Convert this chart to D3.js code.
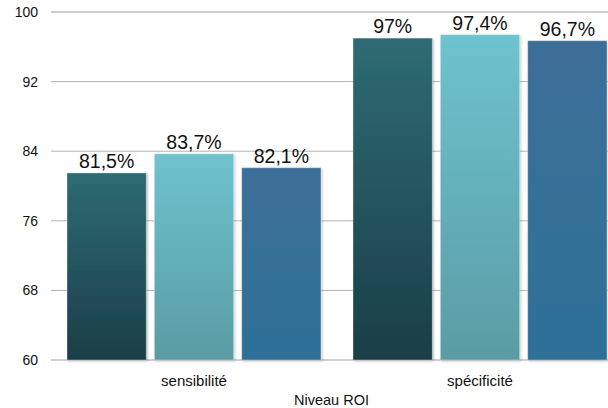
<!DOCTYPE html>
<html><head><meta charset="utf-8">
<script src="https://cdn.jsdelivr.net/npm/d3@7"></script>
<style>body{margin:0;background:#fff}svg{display:block}text{font-family:"Liberation Sans",Arial,sans-serif}</style>
</head><body>
<script>
const categories = ["sensibilité", "spécificité"];
const series = ["s1", "s2", "s3"];
const values = [[81.5, 83.7, 82.1], [97, 97.4, 96.7]];
const labels = [["81,5%", "83,7%", "82,1%"], ["97%", "97,4%", "96,7%"]];
const yTicks = [60, 68, 76, 84, 92, 100];
const axisTitle = "Niveau ROI";
const gradTop = ["#2e6b74", "#6ec3ce", "#3d6e98"];
const gradBot = ["#1a3e47", "#5a9ca4", "#2d7097"];

const W = 608, H = 408;
const svg = d3.select("body").append("svg").attr("width", W).attr("height", H);
const defs = svg.append("defs");
series.forEach((s, i) => {
  const g = defs.append("linearGradient").attr("id", "g" + i).attr("x1", 0).attr("y1", 0).attr("x2", 0).attr("y2", 1);
  g.append("stop").attr("offset", "0%").attr("stop-color", gradTop[i]);
  g.append("stop").attr("offset", "100%").attr("stop-color", gradBot[i]);
});
const f = defs.append("filter").attr("id", "sh").attr("x", "-10%").attr("y", "-10%").attr("width", "130%").attr("height", "130%");
f.append("feDropShadow").attr("dx", 1).attr("dy", 1).attr("stdDeviation", 1).attr("flood-color", "#000").attr("flood-opacity", 0.3);

const y = d3.scaleLinear().domain([60, 100]).range([360, 12]);
const x0 = d3.scaleBand().domain(categories).range([51, 623]).paddingInner(0).paddingOuter(0);
const x1 = d3.scaleBand().domain(series).range([16, x0.bandwidth() - 16]).paddingInner(0.092).paddingOuter(0);

// grid
svg.append("g").selectAll("line").data(yTicks).join("line")
  .attr("x1", 51).attr("x2", W)
  .attr("y1", d => y(d)).attr("y2", d => y(d))
  .attr("stroke", d => (d === 60 || d === 100) ? "#cfcfcf" : "#b3b3b3")
  .attr("stroke-width", d => (d === 60 || d === 100) ? 2 : 1);

// y labels
const yAxis = d3.axisLeft(y).tickValues(yTicks).tickSize(0).tickPadding(0);
const ya = svg.append("g").attr("transform", "translate(38,0)").call(yAxis);
ya.select(".domain").remove();
ya.selectAll("text").attr("font-size", 14).attr("fill", "#111").attr("font-family", '"Liberation Sans",Arial,sans-serif');

// bars
const groups = svg.append("g").selectAll("g").data(categories).join("g")
  .attr("transform", d => `translate(${x0(d)},0)`);
groups.each(function(c, ci) {
  const g = d3.select(this);
  series.forEach((s, si) => {
    const v = values[ci][si];
    g.append("rect").attr("x", x1(s)).attr("y", y(v)).attr("width", x1.bandwidth()).attr("height", y(60) - y(v))
      .attr("fill", `url(#g${si})`).attr("stroke", "rgba(255,255,255,0.35)").attr("stroke-width", 1)
      .attr("filter", "url(#sh)");
    g.append("text").attr("x", x1(s) + x1.bandwidth() / 2).attr("y", y(v) - 5)
      .attr("text-anchor", "middle").attr("font-size", 19.5).attr("fill", "#111").text(labels[ci][si]);
  });
});

// category labels
svg.append("g").selectAll("text").data(categories).join("text")
  .attr("x", d => x0(d) + x0.bandwidth() / 2).attr("y", 386)
  .attr("text-anchor", "middle").attr("font-size", 15).attr("fill", "#111").text(d => d);

svg.append("text").attr("x", (51 + W) / 2 + 2).attr("y", 405).attr("text-anchor", "middle")
  .attr("font-size", 14.5).attr("fill", "#111").text(axisTitle);
</script>
</body></html>
